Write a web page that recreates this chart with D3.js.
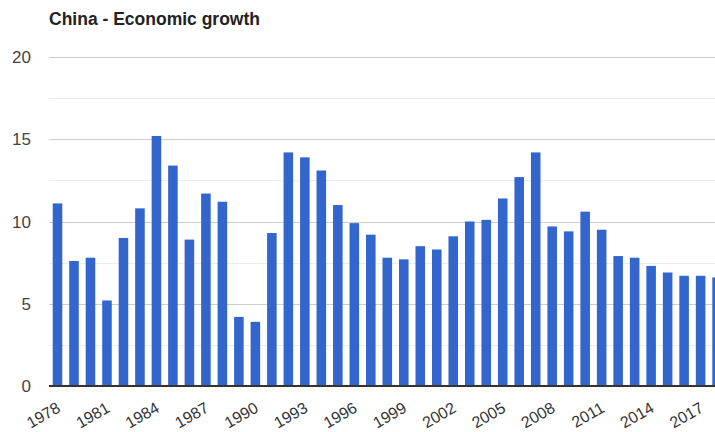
<!DOCTYPE html>
<html>
<head>
<meta charset="utf-8">
<script src="https://cdn.jsdelivr.net/npm/d3@7"></script>
<style>
  body { margin: 0; background: #fff; }
  svg { display: block; font-family: "Liberation Sans", Arial, sans-serif; }
</style>
</head>
<body>
<div id="chart"></div>
<script>
// data
const years = d3.range(1978, 2019);
const growth = [
  11.1, 7.6, 7.8, 5.2, 9.0, 10.8, 15.2, 13.4, 8.9, 11.7,
  11.2, 4.2, 3.9, 9.3, 14.2, 13.9, 13.1, 11.0, 9.9, 9.2,
  7.8, 7.7, 8.5, 8.3, 9.1, 10.0, 10.1, 11.4, 12.7, 14.2,
  9.7, 9.4, 10.6, 9.5, 7.9, 7.8, 7.3, 6.9, 6.7, 6.7, 6.6
];
const yTicks = [0, 5, 10, 15, 20];
const yMinor = [2.5, 7.5, 12.5, 17.5];
const labelYears = years.filter((y) => (y - 1978) % 3 === 0);

const width = 715;
const height = 432;

const svg = d3.select("#chart").append("svg")
  .attr("width", width)
  .attr("height", height);

// scales
const x = d3.scaleBand()
  .domain(years)
  .range([49.25, 49.25 + 41 * 16.49])
  .paddingInner(0.42)
  .paddingOuter(0.21);

const y = d3.scaleLinear()
  .domain([0, 20])
  .range([386, 57]);

// title
svg.append("text")
  .attr("x", 49)
  .attr("y", 25)
  .attr("font-size", 17.5)
  .attr("font-weight", "bold")
  .attr("fill", "#222")
  .text("China - Economic growth");

// gridlines
svg.append("g")
  .selectAll("line")
  .data(yMinor)
  .join("line")
  .attr("x1", 49)
  .attr("x2", width)
  .attr("y1", (d) => Math.round(y(d)) + 0.5)
  .attr("y2", (d) => Math.round(y(d)) + 0.5)
  .attr("stroke", "#ececec");

svg.append("g")
  .selectAll("line")
  .data(yTicks.slice(1))
  .join("line")
  .attr("x1", 49)
  .attr("x2", width)
  .attr("y1", (d) => Math.round(y(d)) + 0.5)
  .attr("y2", (d) => Math.round(y(d)) + 0.5)
  .attr("stroke", "#cccccc");

// y labels
svg.append("g")
  .selectAll("text")
  .data(yTicks)
  .join("text")
  .attr("x", 31)
  .attr("y", (d) => y(d))
  .attr("dy", "0.36em")
  .attr("text-anchor", "end")
  .attr("font-size", 17)
  .attr("fill", "#444")
  .text((d) => d);

// bars
svg.append("g")
  .selectAll("rect")
  .data(growth)
  .join("rect")
  .attr("x", (d, i) => x(years[i]))
  .attr("width", x.bandwidth())
  .attr("y", (d) => y(d))
  .attr("height", (d) => y(0) - y(d))
  .attr("fill", "#3366cc");

// baseline
svg.append("line")
  .attr("x1", 49)
  .attr("x2", width)
  .attr("y1", y(0))
  .attr("y2", y(0))
  .attr("stroke", "#333")
  .attr("stroke-width", 2);

// x labels
svg.append("g")
  .selectAll("text")
  .data(labelYears)
  .join("text")
  .attr("transform", (d) => `translate(${x(d) + x.bandwidth() / 2 + 4},${411}) rotate(-30)`)
  .attr("text-anchor", "end")
  .attr("font-size", 16)
  .attr("fill", "#333")
  .text((d) => d);
</script>
</body>
</html>
